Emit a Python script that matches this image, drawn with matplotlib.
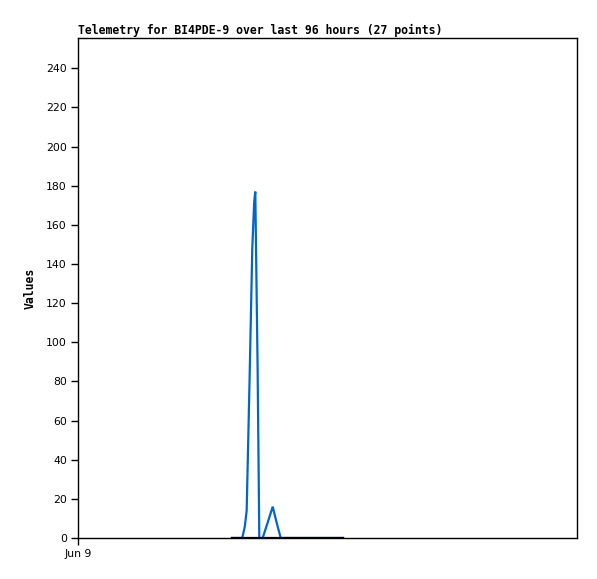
import matplotlib
matplotlib.use("Agg")
import matplotlib.pyplot as plt

title = "Telemetry for BI4PDE-9 over last 96 hours (27 points)"
hours = [29.6, 30.5, 31.6, 32.1, 32.45, 33.0, 33.53, 33.9, 34.11, 34.24, 34.55, 34.88,
         35.53, 36.5, 37.46, 38.2, 39.0, 40.5, 42.0, 43.5, 45.0, 46.5, 48.0, 49.0,
         50.0, 50.5, 51.0]
values = [0, 0, 0, 6, 14, 80, 148, 172, 177, 150, 88, 0,
          0, 8, 16, 8, 0, 0, 0, 0, 0, 0, 0, 0,
          0, 0, 0]
baseline = [0] * len(hours)
yticks = list(range(0, 241, 20))
xtick_pos = [0]
xtick_labels = ["Jun 9"]

W, H = 597, 579
fig = plt.figure(figsize=(W / 100, H / 100), dpi=100)
ax = fig.add_axes([78 / W, (H - 538) / H, 499 / W, 500 / H])

ax.plot(hours, values, color="#0066cc", lw=1.6, solid_joinstyle="miter")
ax.plot(hours, baseline, color="black", lw=1.6)

ax.set_xlim(0, 96)
ax.set_ylim(0, 255.5)
ax.set_yticks(yticks)
ax.set_yticklabels([str(v) for v in yticks], fontsize=7.8, family="DejaVu Sans")
ax.set_xticks(xtick_pos)
ax.set_xticklabels(xtick_labels, fontsize=7.8, family="DejaVu Sans")
ax.tick_params(direction="out", length=5, width=1, colors="black", pad=3)
for s in ax.spines.values():
    s.set_linewidth(1)
    s.set_color("black")

ax.set_title(title, loc="left", fontsize=8.3, family="DejaVu Sans Mono",
             fontweight="bold", pad=3)
ax.set_ylabel("Values", fontsize=8.3, family="DejaVu Sans Mono", fontweight="bold",
              labelpad=7)

fig.savefig("out.png", dpi=100)
